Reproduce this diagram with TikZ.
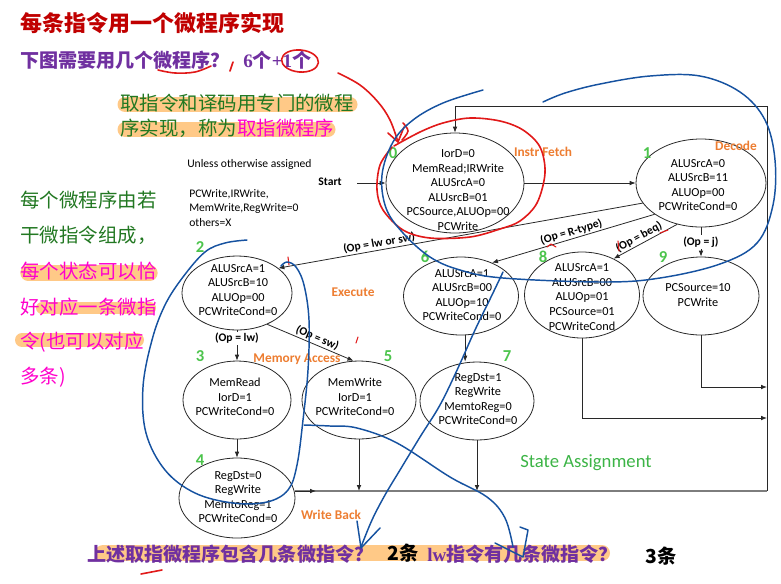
\documentclass[tikz,border=0pt]{standalone}
\usepackage{fontspec}
\setmainfont{Carlito}
\newfontfamily\cjk{Noto Sans CJK SC}
\newfontfamily\tnr{Liberation Serif}
\usetikzlibrary{shapes.geometric,arrows.meta}
\definecolor{ttlred}{RGB}{192,0,0}
\definecolor{purp}{RGB}{112,48,160}
\definecolor{dgreen}{RGB}{34,120,34}
\definecolor{magen}{RGB}{255,0,204}
\definecolor{hlor}{RGB}{255,201,135}
\definecolor{numg}{RGB}{76,196,76}
\definecolor{phor}{RGB}{237,125,49}
\definecolor{sag}{RGB}{60,180,70}
\definecolor{penred}{RGB}{225,25,25}
\definecolor{penblue}{RGB}{22,82,160}
\definecolor{ln}{RGB}{40,40,40}
\definecolor{wbg}{RGB}{125,125,125}
\tikzset{
  st/.style 2 args={ellipse, draw=ln, line width=0.6pt, inner sep=0pt, minimum width=#1*0.75pt, minimum height=#2*0.75pt},
  stt/.style={align=center, inner sep=0pt, font=\fontsize{9.2}{10.9}\selectfont},
  num/.style={font=\bfseries\fontsize{12.5}{13}\selectfont, text=numg, inner sep=0pt},
  phase/.style={font=\bfseries\fontsize{10}{12}\selectfont, text=phor, inner sep=0pt},
  cond/.style={font=\bfseries\fontsize{8.7}{10}\selectfont, inner sep=1pt},
  arr/.style={draw=ln, line width=0.6pt, -{Latex[length=4.5pt,width=3.5pt]}},
  plainln/.style={draw=ln, line width=0.6pt},
  hl/.style={draw=hlor, line cap=round},
  cnl/.style={font=\cjk\fontsize{14.6}{16}\selectfont, inner sep=0pt, anchor=west},
  cnb/.style={font=\cjk\bfseries\fontsize{14.3}{16}\selectfont, inner sep=0pt, anchor=west, text=purp},
  redpen/.style={draw=penred, line width=1.2pt, line cap=round, line join=round},
  bluepen/.style={draw=penblue, line width=1.1pt, line cap=round, line join=round},
}
\begin{document}
\begin{tikzpicture}[x=0.75pt,y=-0.75pt]
\useasboundingbox (0,0) rectangle (781,583);
% ---------- highlights
\draw[hl, line width=11.25pt] (125,104.5) -- (350,104.5);
\draw[hl, line width=11.25pt] (125,129.5) -- (328,129.5);
\draw[hl, line width=11.5pt] (28,273) -- (150,273);
\draw[hl, line width=9pt] (42,308) -- (150,308);
\draw[hl, line width=10.5pt] (22,340) -- (137,340);
\draw[hl, line width=12pt] (103,553) -- (602,553);
% ---------- Chinese texts
\node[cnl, text=ttlred, font=\cjk\bfseries\fontsize{16.5}{18}\selectfont] (title) at (20,23) {每条指令用一个微程序实现};
\node[cnb] (q1) at (20,60) {下图需要用几个微程序？};
\node[cnb] (q1a) at (243,60) {{\tnr\bfseries 6}个{\tnr\bfseries +1}个};
\node[cnl, text=dgreen] (h1) at (120,103) {取指令和译码用专门的微程};
\node[cnl, text=dgreen] (h2) at (120,128) {序实现，称为\textcolor{magen}{取指微程序}};
\node[cnl, text=dgreen] (l1) at (20,200) {每个微程序由若};
\node[cnl, text=dgreen] (l2) at (20,235) {干微指令组成，};
\node[cnl, text=magen] (l3) at (20,271) {每个状态可以恰};
\node[cnl, text=magen] (l4) at (20,307) {好对应一条微指};
\node[cnl, text=magen] (l5) at (20,342) {令(也可以对应};
\node[cnl, text=magen] (l6) at (20,377) {多条)};
\node[cnb] (b1) at (87,554) {上述取指微程序包含几条微指令？};
\node[cnb, text=black, font=\cjk\bfseries\fontsize{14.5}{16}\selectfont] (b2) at (387,553) {2条};
\node[cnb] (b3) at (427,554) {{\tnr\bfseries lw}指令有几条微指令？};
\node[cnb, text=black, font=\cjk\bfseries\fontsize{14.5}{16}\selectfont] (b4) at (645,556) {3条};
% ---------- small notes
\node[anchor=west, inner sep=0pt, font=\fontsize{8.7}{10.9}\selectfont] (unless) at (187,164) {Unless otherwise assigned};
\node[anchor=west, inner sep=0pt, align=left, font=\fontsize{8.7}{10.9}\selectfont] (defaults) at (189,208) {PCWrite,IRWrite,\\MemWrite,RegWrite=0\\others=X};
\node[inner sep=0pt, font=\bfseries\fontsize{8.7}{10}\selectfont] (start) at (330,182) {Start};
% ---------- states
\node[st={138}{100}] (s0) at (455,183) {};
\node[st={130}{88}] (s1) at (701,183) {};
\node[st={110}{74}] (s2) at (237,293) {};
\node[st={115}{78}] (s6) at (461,296) {};
\node[st={115}{86}] (s8) at (582,295) {};
\node[st={116}{78}] (s9) at (701,296) {};
\node[st={108}{78}] (s3) at (237,400) {};
\node[st={114}{78}] (s5) at (359,400) {};
\node[st={114}{78}] (s7) at (477,401) {};
\node[st={116}{80}] (s4) at (237,498) {};
\node[stt] (t0) at (458,190) {IorD=0\\MemRead;IRWrite\\ALUSrcA=0\\ALUsrcB=01\\PCSource,ALUOp=00\\PCWrite};
\node[stt] (t1) at (698,185) {ALUSrcA=0\\ALUSrcB=11\\ALUOp=00\\PCWriteCond=0};
\node[stt] (t2) at (238,290) {ALUSrcA=1\\ALUSrcB=10\\ALUOp=00\\PCWriteCond=0};
\node[stt] (t6) at (462,295) {ALUSrcA=1\\ALUSrcB=00\\ALUOp=10\\PCWriteCond=0};
\node[stt] (t8) at (582,297) {ALUSrcA=1\\ALUSrcB=00\\ALUOp=01\\PCSource=01\\PCWriteCond};
\node[stt] (t9) at (698,295) {PCSource=10\\PCWrite};
\node[stt] (t3) at (235,397) {MemRead\\IorD=1\\PCWriteCond=0};
\node[stt] (t5) at (355,397) {MemWrite\\IorD=1\\PCWriteCond=0};
\node[stt] (t7) at (478,399) {RegDst=1\\RegWrite\\MemtoReg=0\\PCWriteCond=0};
\node[stt] (t4) at (238,497) {RegDst=0\\RegWrite\\MemtoReg=1\\PCWriteCond=0};
% numbers
\node[num] (n0) at (393,153) {0};
\node[num] (n1) at (647,153) {1};
\node[num] (n2) at (200,247) {2};
\node[num] (n6) at (425,257) {6};
\node[num] (n8) at (543,257) {8};
\node[num] (n9) at (663,257) {9};
\node[num] (n3) at (200,356) {3};
\node[num] (n5) at (388,356) {5};
\node[num] (n7) at (507,356) {7};
\node[num] (n4) at (200,460) {4};
% phases
\node[phase] (pf) at (543,152) {Instr Fetch};
\node[phase] (pd) at (736,146) {Decode};
\node[phase] (pe) at (353,292) {Execute};
\node[phase] (pm) at (297,359) {Memory Access};
\node[phase] (pw) at (331,515) {Write Back};
\node[inner sep=0pt, text=sag, font=\fontsize{14}{16}\selectfont] (sa) at (586,463) {State Assignment};
% ---------- connectors
\coordinate (stc) at (357,183);
\coordinate (wbR) at (767,491);
\coordinate (wbM) at (316,491);
\coordinate (topR) at (767,106);
\coordinate (r8) at (767,418);
\coordinate (r9) at (767,387);
\draw[arr] (stc) -- (s0.west);
\draw[arr] (s0.east) -- (s1.west);
\draw[arr] (s1.199) -- node[cond, sloped, above, pos=0.72] {(Op = lw or sw)} (s2.31);
\draw[arr] (s1.214) -- node[cond, sloped, above, pos=0.5] {(Op = R-type)} (s6.47);
\draw[arr] (s1.240) -- node[cond, sloped, above, pos=0.55] {(Op = beq)} (s8.49);
\draw[arr] (s1.south) -- node[cond, fill=white, pos=0.5] {(Op = j)} (s9.north);
\draw[arr] (s2.south) -- node[cond, fill=white, pos=0.27] {(Op = lw)} (s3.north);
\draw[arr] (s2.314) -- node[cond, sloped, above, pos=0.55] {(Op = sw)} (s5.98);
\draw[arr] (s3.south) -- (s4.north);
\draw[arr] (s6.276) -- (s6.276 |- s7.north);
\draw[draw=wbg, line width=1.1pt] (s4.east |- wbR) -- (wbR);
\draw[arr] (s4.east |- wbR) -- (wbM);
\draw[arr] (s5.south) -- (s5.south |- wbR);
\draw[arr] (s7.south) -- (s7.south |- wbR);
\draw[arr] (s8.south) |- (r8);
\draw[arr] (s9.south) |- (r9);
\draw[arr] (wbR) -- (topR) -| (s0.north);
% ---------- red pen
\draw[redpen] plot[smooth, tension=0.6] coordinates {(158,70) (175,73) (195,72) (211,66)};
\draw[redpen] (233,62) -- (230,71);
\draw[redpen, rotate around={-5:(300,61)}] (300,61) ellipse (18.5 and 11);
\draw[redpen] plot[smooth, tension=0.6] coordinates {(338,73) (360,85) (378,102) (390,120) (398,142)};
\draw[redpen] (388,133) -- (398,142) -- (404,127);
\draw[redpen] plot[smooth, tension=0.6] coordinates {(403,123) (408,131) (402,140)};
\draw[redpen] plot[smooth, tension=0.55] coordinates {(394,146) (420,132) (443,123) (470,118) (500,121) (523,130) (540,147) (545,173) (537,203) (520,221) (500,229) (470,237) (430,238) (403,230) (383,210) (377,190) (380,165) (392,147)};
\draw[redpen, line width=0.8pt] (288,257) -- (289,265);
\draw[redpen, line width=0.8pt] (358,337) -- (356,343);
\draw[redpen, line width=0.8pt] (547,247) -- (551,244) -- (556,247);
\draw[redpen, line width=0.8pt] (618,241) -- (619,251);
\draw[redpen, line width=0.8pt] (660,233) -- (668,230);
\draw[redpen] (141,574) -- (162,570);
% ---------- blue pen
\draw[bluepen] plot[smooth, tension=0.6] coordinates {(483,90) (443,103) (413,120) (393,142) (382,175) (386,208) (403,233) (430,257) (460,270) (503,278) (603,282) (660,278) (720,264) (757,243) (773,205) (775,160) (765,120) (740,92) (700,76) (650,76) (600,84) (565,93) (543,102)};
\draw[bluepen] plot[smooth, tension=0.6] coordinates {(247,240) (225,243) (205,252) (183,277) (165,305) (152,340) (143,387) (146,433) (165,470) (195,493) (233,503) (267,502) (288,490) (297,465) (303,420) (308,370) (309,320) (304,285) (296,267) (287,262) (281,266)};
\draw[bluepen] plot[smooth, tension=0.6] coordinates {(503,272) (492,295) (475,330) (458,368) (440,405) (420,437) (400,470) (385,495) (372,520) (361,547)};
\draw[bluepen] (357,521) -- (361,548) -- (380,528);
\draw[bluepen] plot[smooth, tension=0.6] coordinates {(304,425) (330,426) (357,428) (397,443) (450,477) (487,497) (505,518) (513,547)};
\draw[bluepen] (495,543) -- (523,557) -- (528,530) -- (520,527);
\end{tikzpicture}
\end{document}
